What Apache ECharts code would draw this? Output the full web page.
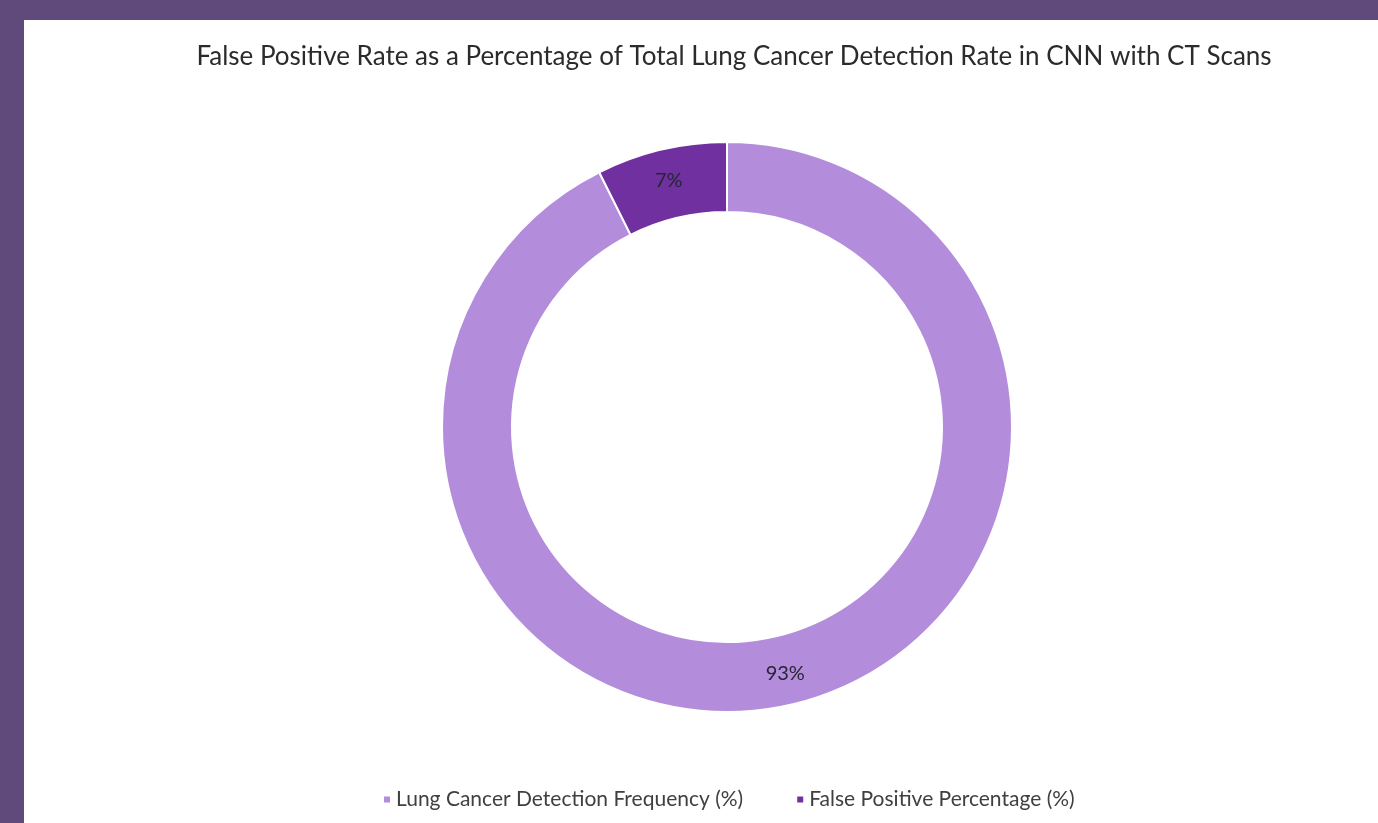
<!DOCTYPE html>
<html>
<head>
<meta charset="utf-8">
<script src="https://cdn.jsdelivr.net/npm/echarts@6/dist/echarts.min.js"></script>
<style>
    html, body { margin: 0; padding: 0; width: 1378px; height: 823px; background: #5f4a7b; overflow: hidden; }
    #main { position: absolute; left: 24px; top: 20px; width: 1354px; height: 803px; background: #fff; }
</style>
</head>
<body>
<div id="main"></div>
<script>
    var categories = ['Lung Cancer Detection Frequency (%)', 'False Positive Percentage (%)'];
    var values = [92.6, 7.4];
    var colors = ['#b38cdc', '#7030a0'];

    var data = [];
    for (var i = 0; i < categories.length; i++) {
        data.push({ name: categories[i], value: values[i], itemStyle: { color: colors[i] } });
    }

    var font = 'Lato, "Open Sans", sans-serif';
    var option = {
        animation: false,
        title: {
            text: 'False Positive Rate as a Percentage of Total Lung Cancer Detection Rate in CNN with CT Scans',
            left: 705,
            textAlign: 'center',
            top: 19,
            textStyle: { fontFamily: font, fontSize: 26, fontWeight: 'normal', color: '#2b2b2b' }
        },
        legend: {
            bottom: 8,
            left: 353,
            icon: 'rect',
            itemWidth: 8,
            itemHeight: 8,
            itemGap: 52,
            textStyle: { fontFamily: font, fontSize: 21, color: '#404040' },
            data: categories
        },
        series: [{
            type: 'pie',
            center: [703, 407],
            radius: [215, 285],
            startAngle: 90,
            clockwise: true,
            silent: true,
            itemStyle: { borderColor: '#fff', borderWidth: 2 },
            label: {
                show: true,
                position: 'inside',
                fontFamily: font,
                fontSize: 20,
                color: '#262633',
                formatter: function(p) { return Math.round(p.value) + '%'; }
            },
            labelLine: { show: false },
            data: data
        }]
    };
    var myChart = echarts.init(document.getElementById('main'));
    myChart.setOption(option);
</script>
</body>
</html>
